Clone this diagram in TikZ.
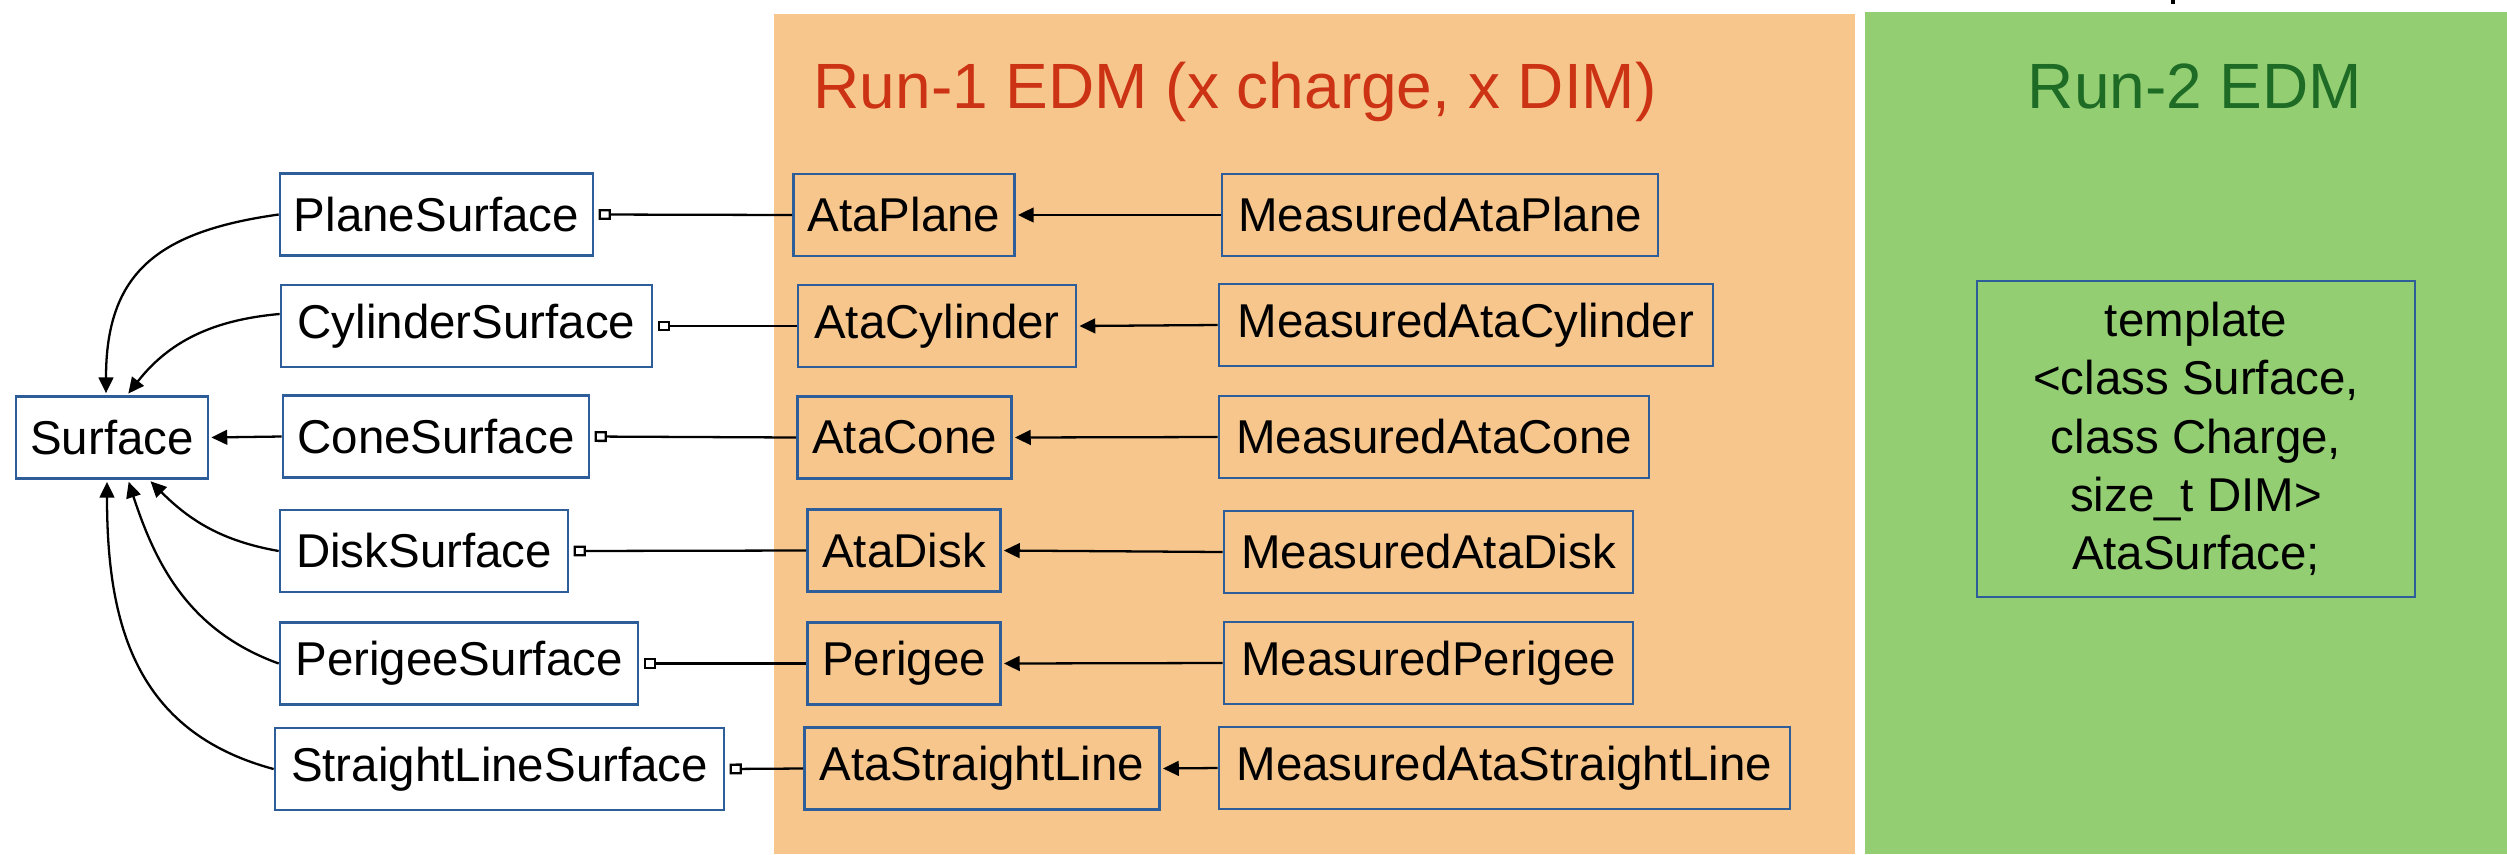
\documentclass[tikz,border=0pt]{standalone}
\usepackage{fontspec}
\setmainfont{Liberation Sans}
\usetikzlibrary{arrows.meta}
\definecolor{runone}{HTML}{F7C68C}
\definecolor{runtwo}{HTML}{94CE72}
\definecolor{boxblue}{HTML}{2E5E99}
\definecolor{titlered}{HTML}{CC3214}
\definecolor{titlegreen}{HTML}{1D6B25}
\begin{document}
\begin{tikzpicture}[x=0.01cm,y=-0.01cm,
  box/.style={draw=boxblue, line width=0.7pt, minimum height=0.82cm, inner sep=0pt,
    font=\fontsize{13.5}{16}\selectfont},
  lbox/.style={box, fill=white},
  titletext/.style={inner sep=0pt, font=\fontsize{18.2}{22}\selectfont},
  agg/.style={line width=0.65pt, {Square[open,length=3.5pt,width=3.1pt]}-, shorten <=1.2pt},
  inh/.style={line width=0.65pt, -{Triangle[length=4.5pt,width=4.2pt]}, shorten >=0.6pt}]
\useasboundingbox (0,0) rectangle (2507,854);
% panels
\fill[runone] (774,14) rectangle (1855,854);
\fill[runtwo] (1865,12) rectangle (2507,854);
\draw[line width=1pt] (2173,0) -- (2173,4);
% titles
\node[titletext, text=titlered, anchor=base west] (t1) at (813,108) {Run-1 EDM (x charge, x DIM)};
\node[titletext, text=titlegreen, anchor=base] (t2) at (2195,108) {Run-2 EDM};
% left column
\node[lbox, minimum width=1.92cm] (surf) at (112,437.5) {Surface};
\node[lbox, minimum width=3.13cm] (plane) at (436.5,214.5) {PlaneSurface};
\node[lbox, minimum width=3.71cm] (cyl) at (466.5,326) {CylinderSurface};
\node[lbox, minimum width=3.06cm] (cone) at (436,436.5) {ConeSurface};
\node[lbox, minimum width=2.88cm] (disk) at (424,551) {DiskSurface};
\node[lbox, minimum width=3.58cm] (peri) at (459,663.5) {PerigeeSurface};
\node[lbox, minimum width=4.49cm] (sline) at (499.5,769) {StraightLineSurface};
% middle column
\node[box, minimum width=2.21cm] (aplane) at (904,215) {AtaPlane};
\node[box, minimum width=2.78cm] (acyl) at (937,326) {AtaCylinder};
\node[box, minimum width=2.14cm] (acone) at (904.5,437.5) {AtaCone};
\node[box, minimum width=1.93cm] (adisk) at (904,550.5) {AtaDisk};
\node[box, minimum width=1.93cm] (aperi) at (904,663.5) {Perigee};
\node[box, minimum width=3.55cm] (asline) at (982,768.5) {AtaStraightLine};
% right column
\node[box, minimum width=4.36cm] (mplane) at (1440,215) {MeasuredAtaPlane};
\node[box, minimum width=4.94cm] (mcyl) at (1466,325) {MeasuredAtaCylinder};
\node[box, minimum width=4.30cm] (mcone) at (1434,437) {MeasuredAtaCone};
\node[box, minimum width=4.09cm] (mdisk) at (1428.5,552) {MeasuredAtaDisk};
\node[box, minimum width=4.09cm] (mperi) at (1428.5,663) {MeasuredPerigee};
\node[box, minimum width=5.71cm] (msline) at (1504.5,768) {MeasuredAtaStraightLine};
% template
\node[box, minimum width=4.38cm, minimum height=3.16cm, align=center,
  font=\fontsize{13.5}{16.6}\selectfont] (tmpl) at (2196,439)
  {template\\<class Surface,\\class Charge,\\size\_t DIM>\\AtaSurface;};
% aggregation lines
\draw[agg] (plane.east) -- (aplane.west);
\draw[agg] (cyl.east) -- (acyl.west);
\draw[agg] (cone.east) -- (acone.west);
\draw[agg] (disk.east) -- (adisk.west);
\draw[agg] (peri.east) -- (aperi.west);
\draw[agg] (sline.east) -- (asline.west);
% measured -> ata
\draw[inh] (mplane.west) -- (aplane.east);
\draw[inh] (mcyl.west) -- (acyl.east);
\draw[inh] (mcone.west) -- (acone.east);
\draw[inh] (mdisk.west) -- (adisk.east);
\draw[inh] (mperi.west) -- (aperi.east);
\draw[inh] (msline.west) -- (asline.east);
% to Surface
\coordinate (st1) at ([xshift=-0.06cm]surf.north);
\coordinate (st2) at ([xshift=0.15cm]surf.north);
\coordinate (sb1) at ([xshift=-0.05cm]surf.south);
\coordinate (sb2) at ([xshift=0.16cm]surf.south);
\coordinate (sb3) at ([xshift=0.37cm]surf.south);
\coordinate (cylout) at ([yshift=0.12cm]cyl.west);
\draw[inh] (plane.west) to[out=188,in=90,looseness=1.25] (st1);
\draw[inh] (cylout) to[out=185,in=52] (st2);
\draw[inh] (cone.west) -- (surf.east);
\draw[inh] (disk.west) to[out=170,in=-45] (sb3);
\draw[inh] (peri.west) to[out=160,in=-72] (sb2);
\draw[inh] (sline.west) to[out=165,in=-90,looseness=1.1] (sb1);
\end{tikzpicture}
\end{document}
